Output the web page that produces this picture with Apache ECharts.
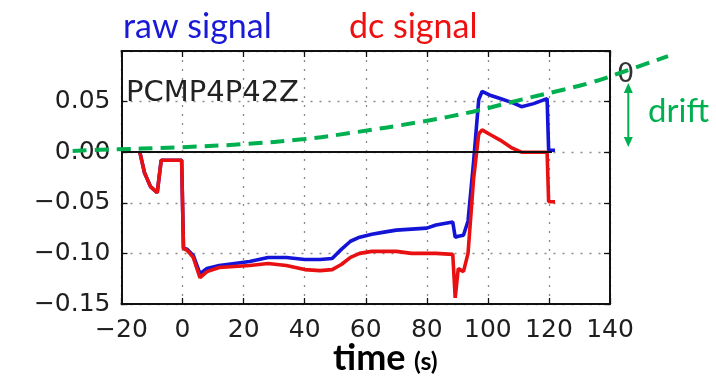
<!DOCTYPE html>
<html>
<head>
<meta charset="utf-8">
<script src="https://cdn.jsdelivr.net/npm/echarts@6/dist/echarts.min.js"></script>
<style>
html,body{margin:0;padding:0;background:#fff;}
#c{width:716px;height:376px;}
</style>
</head>
<body>
<div id="c"></div>
<script>
// ---- data ----
const times = [-14, -12.5, -10.5, -8.3, -7, -0.3, 0.3, 1.5, 3.5, 5.7, 8, 12, 17, 22, 28, 34, 40, 45, 49, 52, 55, 58, 62, 66, 70, 75, 80, 83, 88.5, 89.3, 90.3, 92, 93.5, 95.3, 97, 98.1, 101, 104, 108, 111, 115, 119.4, 119.9, 122];
const rawSignal = [0, -0.02, -0.034, -0.040, -0.008, -0.008, -0.095, -0.096, -0.102, -0.120, -0.115, -0.112, -0.110, -0.108, -0.104, -0.104, -0.106, -0.106, -0.105, -0.096, -0.088, -0.084, -0.081, -0.079, -0.077, -0.076, -0.075, -0.072, -0.069, -0.084, -0.083, -0.082, -0.068, -0.010, 0.052, 0.060, 0.056, 0.053, 0.049, 0.045, 0.048, 0.053, 0.002, 0.002];
const dcSignal = [0, -0.02, -0.034, -0.040, -0.008, -0.008, -0.095, -0.097, -0.104, -0.124, -0.118, -0.114, -0.113, -0.112, -0.110, -0.112, -0.116, -0.117, -0.116, -0.111, -0.104, -0.100, -0.098, -0.098, -0.098, -0.100, -0.100, -0.100, -0.101, -0.144, -0.115, -0.118, -0.100, -0.027, 0.018, 0.022, 0.017, 0.012, 0.004, 0.000, 0.000, 0.000, -0.049, -0.049];
const driftTimes = [-36, -27, 0, 20, 40, 55, 78, 95, 111, 125, 134, 143, 159];
const driftValues = [0.0013, 0.0023, 0.005, 0.008, 0.013, 0.019, 0.030, 0.040, 0.052, 0.062, 0.069, 0.078, 0.095];
const zeroLine = [-20, 121];
const xTicks = {min: -20, max: 140, step: 20};
const yTicks = {min: -0.15, max: 0.10, step: 0.05};
const driftRange = {min: -40, max: 160};

const chart = echarts.init(document.getElementById('c'), null, {renderer: 'canvas'});
const minus = v => (v < 0 ? '\u2212' : '');
const tickFont = 'DejaVu Sans';
const gridStyle = {show: true, lineStyle: {color: '#8a8a8a', type: [2, 7], width: 1.3}};
const tickStyle = {show: true, inside: true, length: 6, lineStyle: {color: '#111', width: 1.3}};
const axisLine = {show: true, onZero: false, lineStyle: {color: '#111', width: 2}};

// plot area: x from 121.5 to 610 px (-20..140)
const pxPerX = (610 - 121.5) / (xTicks.max - xTicks.min);
const grid2Left = 121.5 - (xTicks.min - driftRange.min) * pxPerX;
const grid2Right = 716 - (610 + (driftRange.max - xTicks.max) * pxPerX);

chart.setOption({
  animation: false,
  backgroundColor: '#fff',
  grid: [
    {left: 121.5, right: 106, top: 51, bottom: 72, containLabel: false},
    {left: grid2Left, right: grid2Right, top: 51, bottom: 72, containLabel: false}
  ],
  xAxis: [{
    type: 'value', gridIndex: 0, min: xTicks.min, max: xTicks.max, interval: xTicks.step,
    axisLine: axisLine, axisTick: tickStyle, splitLine: gridStyle,
    axisLabel: {fontFamily: tickFont, fontSize: 25, color: '#1e1e1e', margin: 14,
      formatter: v => minus(v) + Math.abs(v)}
  }, {
    type: 'value', gridIndex: 0, position: 'top', min: xTicks.min, max: xTicks.max, interval: xTicks.step,
    axisLine: axisLine, axisTick: tickStyle, splitLine: {show: false}, axisLabel: {show: false}
  }, {
    type: 'value', gridIndex: 1, min: driftRange.min, max: driftRange.max, show: false
  }],
  yAxis: [{
    type: 'value', gridIndex: 0, min: yTicks.min, max: yTicks.max, interval: yTicks.step,
    axisLine: axisLine, axisTick: tickStyle, splitLine: gridStyle,
    axisLabel: {fontFamily: tickFont, fontSize: 25, color: '#1e1e1e', margin: 11, showMaxLabel: false,
      formatter: v => minus(v) + Math.abs(v).toFixed(2)}
  }, {
    type: 'value', gridIndex: 0, position: 'right', min: yTicks.min, max: yTicks.max, interval: yTicks.step,
    axisLine: axisLine, axisTick: tickStyle, splitLine: {show: false}, axisLabel: {show: false}
  }, {
    type: 'value', gridIndex: 1, min: yTicks.min, max: yTicks.max, show: false
  }],
  series: [{
    name: 'raw signal', type: 'line', showSymbol: false, z: 3,
    xAxisIndex: 0, yAxisIndex: 0,
    data: times.map((t, i) => [t, rawSignal[i]]),
    lineStyle: {color: '#1414d8', width: 3.6},
    markLine: {
      silent: true, symbol: 'none', label: {show: false},
      lineStyle: {color: '#111', width: 2, type: 'solid'},
      data: [[{coord: [zeroLine[0], 0]}, {coord: [zeroLine[1], 0]}]]
    }
  }, {
    name: 'dc signal', type: 'line', showSymbol: false, z: 4,
    xAxisIndex: 0, yAxisIndex: 0,
    data: times.map((t, i) => [t, dcSignal[i]]),
    lineStyle: {color: '#e81010', width: 3.6}
  }, {
    name: 'drift', type: 'line', showSymbol: false, smooth: 0.4, z: 6,
    xAxisIndex: 2, yAxisIndex: 2,
    data: driftTimes.map((t, i) => [t, driftValues[i]]),
    lineStyle: {color: '#00b050', width: 4, type: [14, 8]}
  }],
  graphic: [
    {type: 'text', x: 123, y: 27, z: 10, style: {text: 'raw signal', font: '34px Lato', fill: '#1a1ad6', verticalAlign: 'middle'}},
    {type: 'text', x: 349, y: 27, z: 10, style: {text: 'dc signal', font: '34px Lato', fill: '#ee1111', verticalAlign: 'middle'}},
    {type: 'text', x: 126, y: 93, z: 10, style: {text: 'PCMP4P42Z', font: '29px "DejaVu Sans"', fill: '#222', verticalAlign: 'middle'}},
    {type: 'text', x: 625.5, y: 75, z: 5, style: {text: '0', font: '27px "DejaVu Sans"', fill: '#333', align: 'center', verticalAlign: 'middle'}},
    {type: 'line', z: 10, shape: {x1: 628.3, y1: 91, x2: 628.3, y2: 139}, style: {stroke: '#00b050', lineWidth: 2}},
    {type: 'polygon', z: 10, shape: {points: [[628.3, 83], [623.8, 93], [632.8, 93]]}, style: {fill: '#00b050'}},
    {type: 'polygon', z: 10, shape: {points: [[628.3, 147], [623.8, 137], [632.8, 137]]}, style: {fill: '#00b050'}},
    {type: 'text', x: 648, y: 111, z: 10, style: {text: 'drift', font: '33px Lato', fill: '#00b050', verticalAlign: 'middle'}},
    {type: 'text', x: 333, y: 358, z: 10, style: {text: 'time', font: 'bold 36px Lato', fill: '#000', verticalAlign: 'middle'}},
    {type: 'text', x: 414, y: 362, z: 10, style: {text: '(s)', font: 'bold 25px Lato', fill: '#000', verticalAlign: 'middle'}}
  ]
});
</script>
</body>
</html>
